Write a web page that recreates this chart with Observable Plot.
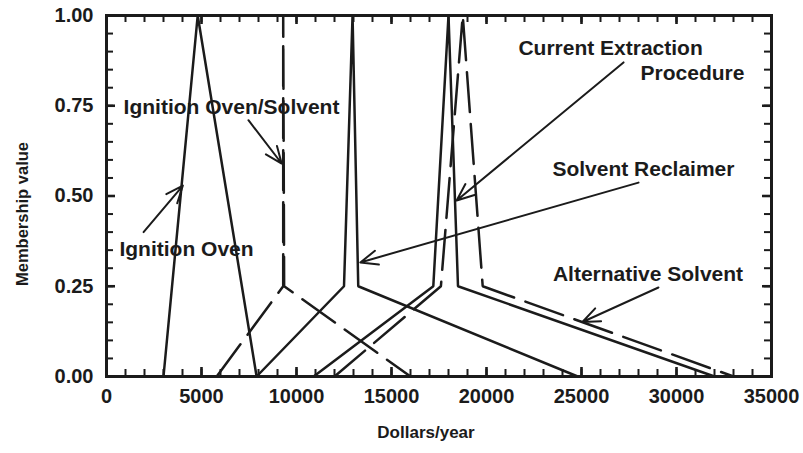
<!DOCTYPE html>
<html>
<head>
<meta charset="utf-8">
<script src="https://cdn.jsdelivr.net/npm/d3@7"></script>
<script src="https://cdn.jsdelivr.net/npm/@observablehq/plot@0.6"></script>
<style>
  html, body { margin: 0; padding: 0; background: #fff; }
  #chart svg { display: block; }
</style>
</head>
<body>
<div id="chart"></div>
<script>
// Fuzzy cost estimates (membership value vs. dollars per year) for each option
const ovenDollars = [3000, 4800, 7900];
const ovenMembership = [0, 1, 0];

const ovenSolventDollars = [5800, 9300, 9300, 9350, 16000];
const ovenSolventMembership = [0, 0.25, 1, 0.25, 0];

const reclaimerDollars = [7900, 12500, 12950, 13250, 24800];
const reclaimerMembership = [0, 0.25, 1, 0.25, 0];

const currentDollars = [10900, 17200, 18000, 18500, 32000];
const currentMembership = [0, 0.25, 1, 0.25, 0];

const altSolventDollars = [12000, 17600, 18750, 19800, 33000];
const altSolventMembership = [0, 0.25, 1, 0.25, 0];

// Axis tick labels
const xTicks = [0, 5000, 10000, 15000, 20000, 25000, 30000, 35000];
const yTicks = [0, 0.25, 0.5, 0.75, 1];

// Callout labels and their arrows (data coordinates)
const labelText = ["Ignition Oven/Solvent", "Ignition Oven", "Solvent Reclaimer", "Current Extraction", "Procedure", "Alternative Solvent"];
const labelX = [6580, 4210, 28260, 26530, 30840, 28500];
const labelY = [0.745, 0.352, 0.573, 0.91, 0.841, 0.284];

const arrowFromX = [7470, 1950, 28000, 27210, 29050];
const arrowFromY = [0.71, 0.40, 0.537, 0.87, 0.2465];
const arrowToX = [9220, 4020, 13360, 18430, 25050];
const arrowToY = [0.59, 0.529, 0.316, 0.4875, 0.151];

function rows(name, xs, ys) {
  return xs.map((x, i) => ({series: name, dollars: x, membership: ys[i]}));
}

const solidRows = [
  ...rows("Ignition Oven", ovenDollars, ovenMembership),
  ...rows("Solvent Reclaimer", reclaimerDollars, reclaimerMembership),
  ...rows("Current Extraction Procedure", currentDollars, currentMembership)
];
const dashedRows = [
  ...rows("Ignition Oven/Solvent", ovenSolventDollars, ovenSolventMembership),
  ...rows("Alternative Solvent", altSolventDollars, altSolventMembership)
];

const labels = labelText.map((t, i) => ({text: t, x: labelX[i], y: labelY[i]}));
const arrows = arrowFromX.map((x, i) => ({x1: x, y1: arrowFromY[i], x2: arrowToX[i], y2: arrowToY[i]}));

const W = 803, H = 453;
const mL = 106, mR = 32, mT = 15, mB = 77;
const innerW = W - mL - mR, innerH = H - mT - mB;
const xMax = 35000, yMax = 1;

// inward tick lengths (pixels) expressed in data units
const minorPx = 7, majorPx = 9;
const kx = xMax / innerW, ky = yMax / innerH;

const xMinor = d3.range(0, xMax + 1, 1000);
const yMinor = d3.range(0, 21).map(i => i / 20);

const ink = "#1b1b1b";
const font = "'Liberation Sans', Arial, Helvetica, sans-serif";

function xTickRules(values, px, w) {
  return [
    Plot.ruleX(values, {x: d => d, y1: 0, y2: px * ky, stroke: ink, strokeWidth: w}),
    Plot.ruleX(values, {x: d => d, y1: yMax - px * ky, y2: yMax, stroke: ink, strokeWidth: w})
  ];
}
function yTickRules(values, px, w) {
  return [
    Plot.ruleY(values, {y: d => d, x1: 0, x2: px * kx, stroke: ink, strokeWidth: w}),
    Plot.ruleY(values, {y: d => d, x1: xMax - px * kx, x2: xMax, stroke: ink, strokeWidth: w})
  ];
}

const chart = Plot.plot({
  width: W,
  height: H,
  marginLeft: mL,
  marginRight: mR,
  marginTop: mT,
  marginBottom: mB,
  style: {fontFamily: font, fontWeight: "bold", color: ink, background: "#fff"},
  x: {domain: [0, xMax], label: null},
  y: {domain: [0, yMax], label: null},
  marks: [
    // tick labels
    Plot.axisX(xTicks, {tickSize: 0, tickPadding: 12, fontSize: 20, tickFormat: d => String(d), label: null}),
    Plot.axisY(yTicks, {tickSize: 0, tickPadding: 13, fontSize: 20, tickFormat: d => d.toFixed(2), label: null}),

    // membership functions
    Plot.line(solidRows, {x: "dollars", y: "membership", z: "series", stroke: ink, strokeWidth: 2.5, strokeLinejoin: "miter"}),
    Plot.line(dashedRows, {x: "dollars", y: "membership", z: "series", stroke: ink, strokeWidth: 2.5, strokeDasharray: "40,12", strokeLinejoin: "miter"}),

    // callouts
    Plot.arrow(arrows, {x1: "x1", y1: "y1", x2: "x2", y2: "y2", stroke: ink, strokeWidth: 2, headLength: 14, headAngle: 45}),
    Plot.text(labels, {x: "x", y: "y", text: "text", fontSize: 21, fontWeight: "bold", fill: ink, textAnchor: "middle", lineAnchor: "middle"}),

    // axis titles
    Plot.text(["Dollars/year"], {frameAnchor: "bottom", textAnchor: "middle", dx: -13, dy: 61, fontSize: 17, fontWeight: "bold", fill: ink}),
    Plot.text(["Membership value"], {frameAnchor: "left", textAnchor: "middle", dx: -84, dy: 18, rotate: -90, fontSize: 16.5, fontWeight: "bold", fill: ink}),

    Plot.frame({stroke: ink, strokeWidth: 3}),

    // inward ticks on all four sides
    ...xTickRules(xMinor, minorPx, 2),
    ...xTickRules(xTicks, majorPx, 2.6),
    ...yTickRules(yMinor, minorPx, 2),
    ...yTickRules(yTicks, majorPx, 2.6)
  ]
});

document.getElementById("chart").appendChild(chart);
</script>
</body>
</html>
